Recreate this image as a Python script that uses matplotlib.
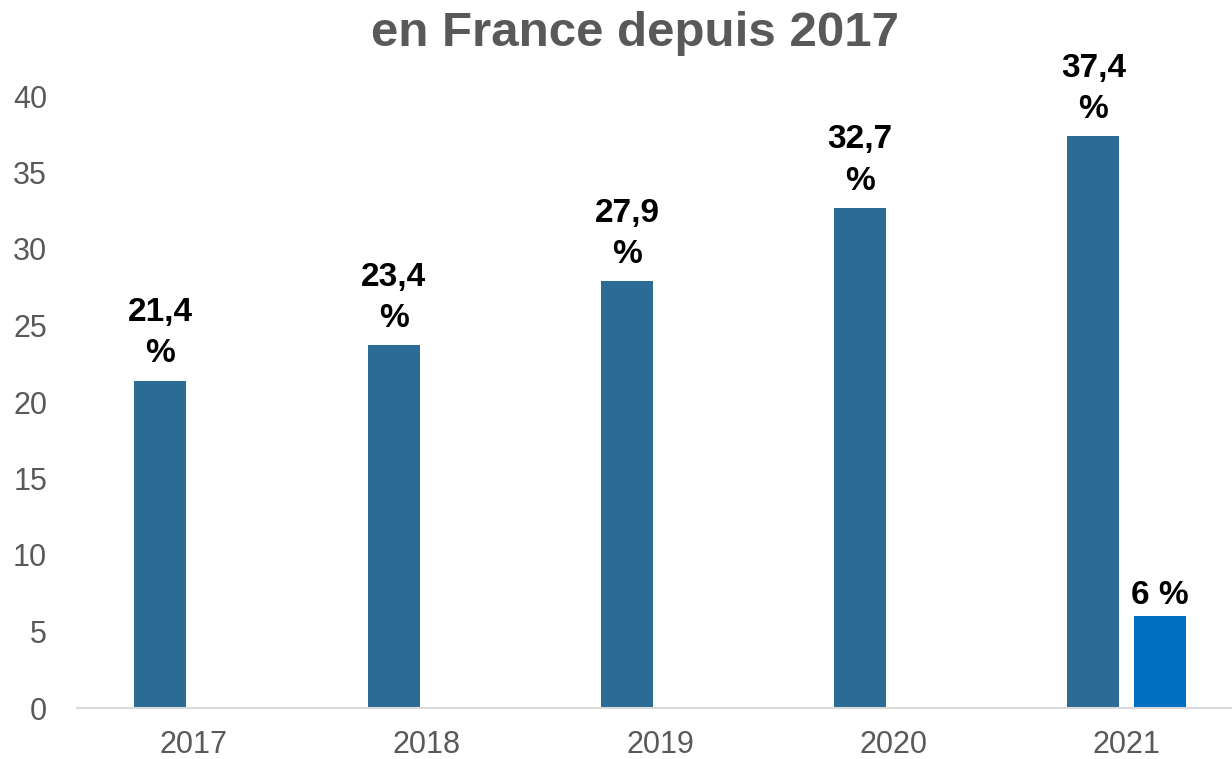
import matplotlib
matplotlib.use("Agg")
import matplotlib.pyplot as plt
import numpy as np

plt.rcParams["font.family"] = ["Liberation Sans", "DejaVu Sans"]

years = ["2017", "2018", "2019", "2020", "2021"]
main_values = [21.4, 23.7, 27.9, 32.7, 37.4]
main_labels = ["21,4\n%", "23,4\n%", "27,9\n%", "32,7\n%", "37,4\n%"]
extra_year_idx = 4
extra_value = 6.0
extra_label = "6 %"
yticks = [0, 5, 10, 15, 20, 25, 30, 35, 40]

W, H = 1232, 759
fig = plt.figure(figsize=(W / 100, H / 100), dpi=100)
ax = fig.add_axes((77 / W, (H - 708) / H, 1166 / W, 612 / H))

x = np.arange(len(years))
bw = 0.223
off = 0.142
ax.bar(x - off, main_values, width=bw, color="#2B6B94")
ax.bar(extra_year_idx + off, extra_value, width=bw, color="#0070C0")

for xi, v, lab in zip(x - off, main_values, main_labels):
    ax.annotate(lab, xy=(xi, v), xytext=(0, 8), textcoords="offset points",
                ha="center", va="bottom", fontsize=24, fontweight="bold",
                color="black", linespacing=1.42, annotation_clip=False)
ax.annotate(extra_label, xy=(extra_year_idx + off, extra_value), xytext=(0, 4),
            textcoords="offset points", ha="center", va="bottom", fontsize=24,
            fontweight="bold", color="black", annotation_clip=False)

ax.set_xlim(-0.5, len(years) - 0.5)
ax.set_ylim(0, 40)
ax.set_xticks(x)
ax.set_xticklabels(years)
ax.set_yticks(yticks)
ax.tick_params(axis="both", length=0, labelsize=22, colors="#595959")
ax.tick_params(axis="y", pad=21.5)
ax.tick_params(axis="x", pad=16)
for s in ["top", "right", "left"]:
    ax.spines[s].set_visible(False)
ax.spines["bottom"].set_color("#D9D9D9")
ax.spines["bottom"].set_linewidth(1.5)

fig.text(635 / W, 1 - 33 / H, "en France depuis 2017", ha="center", va="center",
         fontsize=35.5, fontweight="bold", color="#595959")

fig.savefig("out.png", dpi=100)
